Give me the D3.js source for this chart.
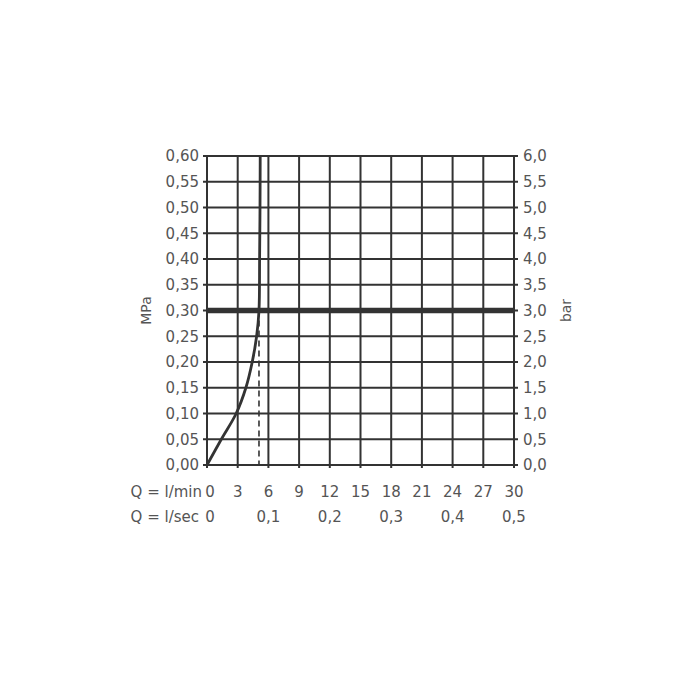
<!DOCTYPE html>
<html><head><meta charset="utf-8">
<script src="https://cdn.jsdelivr.net/npm/d3@7"></script>
<style>body{margin:0;background:#fff}</style>
</head><body>
<script>
// Data
const mpaTicks = [0,0.05,0.10,0.15,0.20,0.25,0.30,0.35,0.40,0.45,0.50,0.55,0.60];
const mpaLabels = ["0,00","0,05","0,10","0,15","0,20","0,25","0,30","0,35","0,40","0,45","0,50","0,55","0,60"];
const barLabels = ["0,0","0,5","1,0","1,5","2,0","2,5","3,0","3,5","4,0","4,5","5,0","5,5","6,0"];
const lminTicks = [0,3,6,9,12,15,18,21,24,27,30];
const lsecTicks = [0,6,12,18,24,30];
const lsecLabels = ["0","0,1","0,2","0,3","0,4","0,5"];
// curve: flow (l/min) vs pressure (MPa)
const curveP = [0,0.05,0.10,0.15,0.20,0.25,0.30,0.40,0.50,0.60];
const curveQ = [0,1.4,2.85,3.8,4.42,4.85,5.08,5.14,5.18,5.2];
const refPressure = 0.30;
const refFlow = 5.08;

const W=700,H=700;
const svg=d3.select("body").append("svg").attr("width",W).attr("height",H);
const x=d3.scaleLinear().domain([0,30]).range([207,514]);
const y=d3.scaleLinear().domain([0,0.6]).range([465,156]);
const ink="#333", txt="#555";
const font="'DejaVu Sans', sans-serif";

// horizontal grid lines (with ticks extending both sides)
svg.append("g").selectAll("line").data(mpaTicks).join("line")
  .attr("x1",x(0)-4).attr("x2",x(30)+4)
  .attr("y1",d=>y(d)).attr("y2",d=>y(d))
  .attr("stroke",ink).attr("stroke-width",2);
// vertical grid lines
svg.append("g").selectAll("line").data(lminTicks).join("line")
  .attr("x1",d=>x(d)).attr("x2",d=>x(d))
  .attr("y1",y(0.6)).attr("y2",y(0)+3)
  .attr("stroke",ink).attr("stroke-width",2);

// thick line at 3 bar
svg.append("line").attr("x1",x(0)).attr("x2",x(30))
  .attr("y1",y(refPressure)).attr("y2",y(refPressure))
  .attr("stroke",ink).attr("stroke-width",5.5);

// dashed line
svg.append("line").attr("x1",x(refFlow)).attr("x2",x(refFlow))
  .attr("y1",y(refPressure)).attr("y2",y(0))
  .attr("stroke",ink).attr("stroke-width",1.6).attr("stroke-dasharray","6,4");

// curve
const pts=curveP.map((p,i)=>[curveQ[i],p]);
svg.append("path").datum(pts)
  .attr("d",d3.line().x(d=>x(d[0])).y(d=>y(d[1])).curve(d3.curveCatmullRom.alpha(0.5)))
  .attr("fill","none").attr("stroke",ink).attr("stroke-width",2.8);

// left labels
svg.append("g").selectAll("text").data(mpaTicks).join("text")
  .attr("x",199).attr("y",d=>y(d)).attr("dy","0.35em")
  .attr("text-anchor","end").attr("font-family",font).attr("font-size",15).attr("fill",txt)
  .text((d,i)=>mpaLabels[i]);
// right labels
svg.append("g").selectAll("text").data(mpaTicks).join("text")
  .attr("x",523).attr("y",d=>y(d)).attr("dy","0.35em")
  .attr("text-anchor","start").attr("font-family",font).attr("font-size",15).attr("fill",txt)
  .text((d,i)=>barLabels[i]);

// axis titles
svg.append("text").attr("transform",`translate(146,${y(0.3)}) rotate(-90)`)
  .attr("text-anchor","middle").attr("dy","0.35em").attr("font-family",font).attr("font-size",14).attr("fill",txt).text("MPa");
svg.append("text").attr("transform",`translate(566,${y(0.3)}) rotate(-90)`)
  .attr("text-anchor","middle").attr("dy","0.35em").attr("font-family",font).attr("font-size",14).attr("fill",txt).text("bar");

// bottom rows
svg.append("text").attr("x",202).attr("y",492).attr("dy","0.35em").attr("text-anchor","end")
  .attr("font-family",font).attr("font-size",15).attr("fill",txt).text("Q = l/min");
svg.append("g").selectAll("text").data(lminTicks).join("text")
  .attr("x",d=>x(d)+(d===0?3:0)).attr("y",492).attr("dy","0.35em").attr("text-anchor","middle")
  .attr("font-family",font).attr("font-size",15).attr("fill",txt).text(d=>d);
svg.append("text").attr("x",199).attr("y",517).attr("dy","0.35em").attr("text-anchor","end")
  .attr("font-family",font).attr("font-size",15).attr("fill",txt).text("Q = l/sec");
svg.append("g").selectAll("text").data(lsecTicks).join("text")
  .attr("x",d=>x(d)+(d===0?3:0)).attr("y",517).attr("dy","0.35em").attr("text-anchor","middle")
  .attr("font-family",font).attr("font-size",15).attr("fill",txt).text((d,i)=>lsecLabels[i]);
</script>
</body></html>
